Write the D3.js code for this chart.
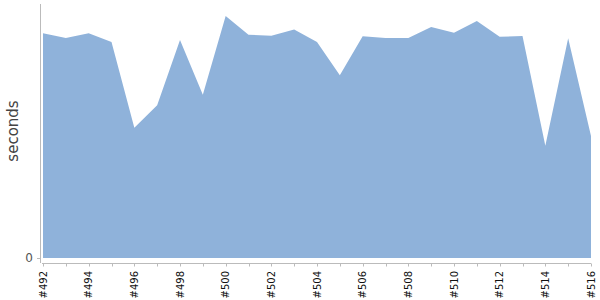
<!DOCTYPE html>
<html><head><meta charset="utf-8">
<script src="https://cdn.jsdelivr.net/npm/d3@7"></script>
<style>body{margin:0;background:#fff}svg{display:block}</style>
</head><body>
<svg id="c" width="600" height="300"></svg>
<script>
const builds = ["#492","#493","#494","#495","#496","#497","#498","#499","#500","#501","#502","#503","#504","#505","#506","#507","#508","#509","#510","#511","#512","#513","#514","#515","#516"];
const seconds = [88.5,86.6,88.5,85.0,51.3,60.1,85.8,64.3,95.3,87.9,87.5,90.0,85.0,71.9,87.3,86.6,86.6,90.9,88.7,93.3,87.1,87.4,44.2,86.5,48.0];
const yTicks = [0];
const yLabel = "seconds";

const svg = d3.select("#c");
const x = d3.scalePoint().domain(builds).range([43, 591]);
const y = d3.scaleLinear().domain([0, 100]).range([258, 4]);

const area = d3.area().x((d,i)=>x(builds[i])).y0(y(0)).y1(d=>y(d));
svg.append("path").datum(seconds).attr("d", area).attr("fill", "#8fb2da");

// y axis
svg.append("line").attr("x1",40.5).attr("x2",40.5).attr("y1",4).attr("y2",263).attr("stroke","#bbb");
yTicks.forEach(t=>{
  svg.append("line").attr("x1",37).attr("x2",40).attr("y1",y(t)+0.5).attr("y2",y(t)+0.5).attr("stroke","#bbb");
  svg.append("text").attr("x",33).attr("y",y(t)).attr("dy","0.35em").attr("text-anchor","end")
    .attr("font-family","DejaVu Sans, sans-serif").attr("font-size",12).attr("fill","#555").text(t);
});
// x axis
const gx = svg.append("g").attr("transform","translate(0,263.5)");
gx.append("line").attr("x1",42).attr("x2",591).attr("stroke","#bbb");
builds.forEach((b,i)=>{
  gx.append("line").attr("x1",Math.round(x(b))+0.5).attr("x2",Math.round(x(b))+0.5).attr("y1",0).attr("y2",3).attr("stroke","#bbb");
  if(i%2===0){
    gx.append("text").attr("transform",`translate(${x(b)},7.5) rotate(-90)`).attr("dy","0.35em")
      .attr("text-anchor","end").attr("font-family","DejaVu Sans, sans-serif").attr("font-size",10).attr("fill","#111").text(b);
  }
});
svg.append("text").attr("transform","translate(13,131) rotate(-90)").attr("dy","0.35em").attr("text-anchor","middle")
  .attr("font-family","DejaVu Sans, sans-serif").attr("font-size",15).attr("fill","#444").text(yLabel);
</script>
</body></html>
